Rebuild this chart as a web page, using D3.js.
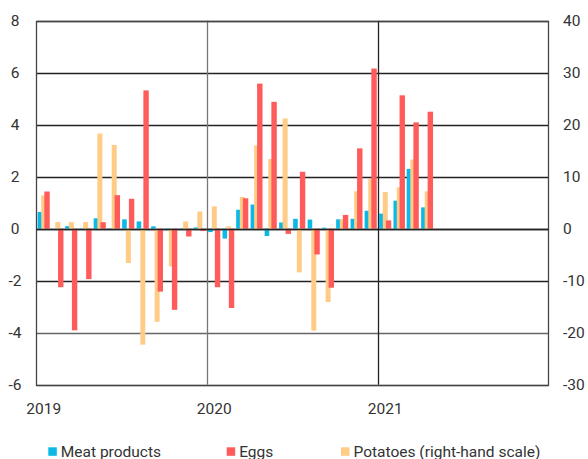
<!DOCTYPE html>
<html>
<head>
<meta charset="utf-8">
<script src="https://cdn.jsdelivr.net/npm/d3@7"></script>
<style>
  html, body { margin: 0; padding: 0; background: #fff; }
  svg { display: block; font-family: Roboto, "Noto Sans", sans-serif; }
</style>
</head>
<body>
<svg id="chart" width="588" height="459"></svg>
<script>
// ---- data (monthly, Jan 2019 – Apr 2021) ----
const months = [
  "2019-01","2019-02","2019-03","2019-04","2019-05","2019-06","2019-07","2019-08","2019-09","2019-10","2019-11","2019-12",
  "2020-01","2020-02","2020-03","2020-04","2020-05","2020-06","2020-07","2020-08","2020-09","2020-10","2020-11","2020-12",
  "2021-01","2021-02","2021-03","2021-04"
];
const meatProducts = [0.64, 0.0, 0.1, -0.04, 0.4, -0.03, 0.36, 0.28, 0.09, -0.05, -0.02, 0.05,
                      -0.13, -0.38, 0.73, 0.93, -0.28, 0.24, 0.38, 0.35, 0.04, 0.36, 0.38, 0.69,
                      0.58, 1.08, 2.3, 0.82];
const eggs = [1.43, -2.25, -3.91, -1.94, 0.25, 1.29, 1.15, 5.32, -2.42, -3.12, -0.3, -0.09,
              -2.25, -3.05, 1.17, 5.58, 4.88, -0.2, 2.19, -0.99, -2.27, 0.53, 3.09, 6.16,
              0.32, 5.13, 4.09, 4.5];
const potatoes = [6.4, 1.27, 1.27, 1.27, 18.3, 16.1, -6.6, -22.3, -17.9, -7.25, 1.4, 3.3,
                  4.3, 0.45, 6.1, 16.0, 13.4, 21.2, -8.4, -19.6, -14.1, 1.8, 7.2, 9.55,
                  7.05, 7.95, 13.3, 7.2];
const leftTicks = [-6, -4, -2, 0, 2, 4, 6, 8];
const rightTicks = [-30, -20, -10, 0, 10, 20, 30, 40];
const yearTicks = ["2019", "2020", "2021"];
const seriesNames = ["Meat products", "Eggs", "Potatoes (right-hand scale)"];
const colors = { meat: "#0bb8e6", eggs: "#ff5b5b", potatoes: "#ffcc88" };

// ---- layout ----
const svg = d3.select("#chart");
const L = 36.5, R = 548.5, T = 20.7, B = 384.7;
const parse = d3.timeParse("%Y-%m");
const x = d3.scaleTime().domain([new Date(2019, 0, 1), new Date(2022, 0, 1)]).range([L, R]);
const yL = d3.scaleLinear().domain([-6, 8]).range([B, T]);
const yR = d3.scaleLinear().domain([-30, 40]).range([B, T]);

// grid lines
svg.append("g").selectAll("line").data(leftTicks).join("line")
  .attr("x1", L).attr("x2", R)
  .attr("y1", d => Math.round(yL(d)) + 0.5).attr("y2", d => Math.round(yL(d)) + 0.5)
  .attr("stroke", d => (d < -2 ? "#666" : "#222")).attr("stroke-width", 1.3);

// vertical year lines
svg.append("g").selectAll("line").data(["2020", "2021"]).join("line")
  .attr("x1", d => Math.round(x(new Date(+d, 0, 1))) + 0.5)
  .attr("x2", d => Math.round(x(new Date(+d, 0, 1))) + 0.5)
  .attr("y1", T).attr("y2", B)
  .attr("stroke", d => d === "2020" ? "#777" : "#222").attr("stroke-width", 1.3);

// frame
svg.append("rect").attr("x", L).attr("y", Math.round(T) + 0.5)
  .attr("width", R - L).attr("height", Math.round(B) - Math.round(T))
  .attr("fill", "none").attr("stroke", "#444").attr("stroke-width", 1.3);

// bars
const rows = months.map((m, i) => ({ date: parse(m), meat: meatProducts[i], eggs: eggs[i], pot: potatoes[i] }));
const mw = d => x(d3.timeMonth.offset(d, 1)) - x(d);
const g = svg.append("g");
function bars(key, scale, color, off, w) {
  g.append("g").selectAll("rect").data(rows).join("rect")
    .attr("x", d => x(d.date) + off * mw(d.date) / 14.22)
    .attr("width", w)
    .attr("y", d => Math.min(scale(d[key]), scale(0)))
    .attr("height", d => Math.abs(scale(d[key]) - scale(0)))
    .attr("fill", color);
}
bars("meat", yL, colors.meat, 1.1, 4.6);
bars("pot", yR, colors.potatoes, 4.7, 5.0);
bars("eggs", yL, colors.eggs, 7.7, 5.4);

// redraw zero line on top
svg.append("line").attr("x1", L).attr("x2", R)
  .attr("y1", Math.round(yL(0)) + 0.5).attr("y2", Math.round(yL(0)) + 0.5)
  .attr("stroke", "#222").attr("stroke-width", 1.3);

// left axis labels
svg.append("g").selectAll("text").data(leftTicks).join("text")
  .attr("x", 15).attr("y", d => yL(d)).attr("dy", "0.36em")
  .attr("text-anchor", "middle").attr("font-size", 15.5).attr("fill", "#333")
  .text(d => d);

// right axis labels
svg.append("g").selectAll("text").data(rightTicks).join("text")
  .attr("x", 563).attr("y", d => yR(d)).attr("dy", "0.36em")
  .attr("text-anchor", "start").attr("font-size", 15.5).attr("fill", "#333")
  .text(d => d);

// year labels (centred on January)
svg.append("g").selectAll("text").data(yearTicks).join("text")
  .attr("x", d => { const s = new Date(+d, 0, 1); return x(s) + mw(s) / 2; })
  .attr("y", 413.5).attr("text-anchor", "middle")
  .attr("font-size", 15.5).attr("fill", "#333")
  .text(d => d);

// legend
const legendX = [48.3, 226.7, 341];
const legendColors = [colors.meat, colors.eggs, colors.potatoes];
const lg = svg.append("g").selectAll("g").data(seriesNames).join("g")
  .attr("transform", (d, i) => `translate(${legendX[i]},0)`);
lg.append("rect").attr("x", 0).attr("y", 447.3).attr("width", 8.5).attr("height", 8.5)
  .attr("fill", (d, i) => legendColors[i]);
lg.append("text").attr("x", 12.5).attr("y", 456.5)
  .attr("font-size", 15.5).attr("fill", "#333").text(d => d);
</script>
</body>
</html>
